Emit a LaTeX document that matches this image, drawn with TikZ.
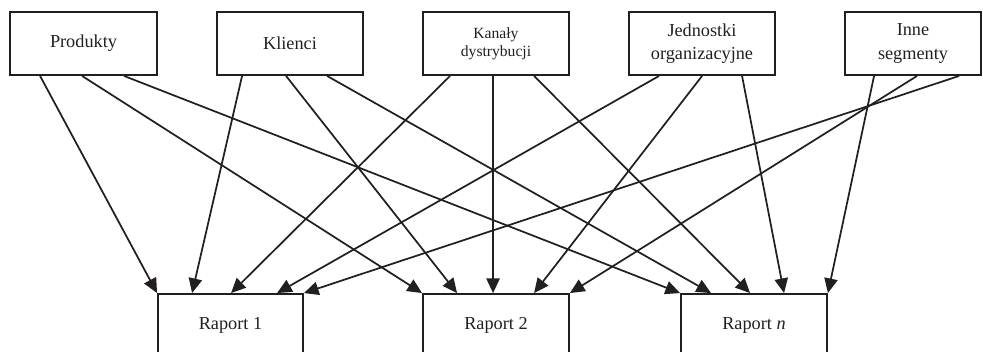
\documentclass[tikz,border=0pt]{standalone}
\usepackage{fontspec}
\setmainfont{Liberation Serif}
\usetikzlibrary{arrows.meta,calc}
\definecolor{ink}{RGB}{35,31,32}
\begin{document}
\begin{tikzpicture}[x=0.75pt,y=-0.75pt,
  box/.style={draw=ink, line width=1.4pt, text=ink, inner sep=0pt, align=center,
    minimum height=47.25pt, font=\fontsize{13.7}{17.5}\selectfont},
  smallbox/.style={box, font=\fontsize{11.7}{13.5}\selectfont},
  ar/.style={draw=ink, line width=1.3pt, -{Triangle[length=11pt,width=10pt]}}]
\useasboundingbox (0,0) rectangle (983,351);
\clip (0,0) rectangle (983,351);
% top boxes
\node[box, minimum width=110.25pt] (prod) at (83.5,43.5) {Produkty};
\node[box, minimum width=109.5pt] (kli) at (290,43.5) {Klienci};
\node[smallbox, minimum width=109.5pt] (kan) at (496,43.5) {Kanały\\dystrybucji};
\node[box, minimum width=109.5pt] (jed) at (702,43.5) {Jednostki\\organizacyjne};
\node[box, minimum width=102pt] (inne) at (913,43.5) {Inne\\segmenty};
% bottom boxes
\node[box, minimum width=108.75pt] (r1) at (230.5,325.5) {Raport 1};
\node[box, minimum width=109.5pt] (r2) at (496,325.5) {Raport 2};
\node[box, minimum width=109.5pt] (rn) at (754,325.5) {Raport \textit{n}};
% arrows: Produkty
\draw[ar] ($(prod.south west)+(31,0)$) -- (r1.north west);
\draw[ar] ($(prod.south west)+(73,0)$) -- (r2.north west);
\draw[ar] ($(prod.south west)+(115,0)$) -- (rn.north west);
% Klienci
\draw[ar] ($(kli.south west)+(26,0)$) -- ($(r1.north west)+(35,0)$);
\draw[ar] ($(kli.south west)+(70,0)$) -- ($(r2.north west)+(35,0)$);
\draw[ar] ($(kli.south west)+(111,0)$) -- ($(rn.north west)+(31,0)$);
% Kanaly
\draw[ar] ($(kan.south west)+(28,0)$) -- ($(r1.north west)+(74,0)$);
\draw[ar] ($(kan.south west)+(71,0)$) -- ($(r2.north west)+(71,0)$);
\draw[ar] ($(kan.south west)+(112,0)$) -- ($(rn.north west)+(70,0)$);
% Jednostki
\draw[ar] ($(jed.south west)+(31,0)$) -- ($(r1.north west)+(120,0)$);
\draw[ar] ($(jed.south west)+(74,0)$) -- ($(r2.north west)+(112,0)$);
\draw[ar] ($(jed.south west)+(114,0)$) -- ($(rn.north west)+(104,0)$);
% Inne
\draw[ar] ($(inne.south west)+(30,0)$) -- (rn.north east);
\draw[ar] ($(inne.south west)+(73,0)$) -- (r2.north east);
\draw[ar] ($(inne.south west)+(115,0)$) -- (r1.north east);
\end{tikzpicture}
\end{document}
